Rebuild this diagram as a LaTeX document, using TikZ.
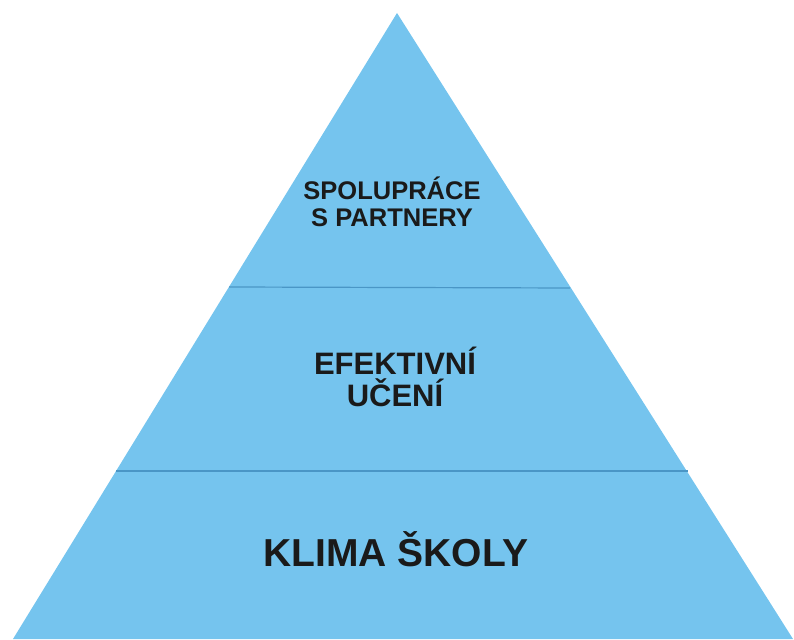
\documentclass[tikz,border=0pt]{standalone}
\usepackage{fontspec}
\setmainfont{Liberation Sans}
\definecolor{pyrfill}{HTML}{75C4EE}
\definecolor{pyrline}{HTML}{4A96C6}
\definecolor{pyrtext}{HTML}{1A1A1A}
\begin{document}
\begin{tikzpicture}[x=1pt,y=1pt,
  label/.style={text=pyrtext,font=\bfseries,align=center,inner sep=0pt},
  divider/.style={draw=pyrline,line width=1.2pt}]
\useasboundingbox (0,0) rectangle (794,639);
% pyramid (y = 639 - pixel row)
\coordinate (apex) at (397,626);
\coordinate (bl) at (13,0);
\coordinate (br) at (793,0);
\fill[pyrfill] (apex) -- (br) -- (bl) -- cycle;
% dividers
\coordinate (d1l) at (229,352);
\coordinate (d1r) at (570,351);
\coordinate (d2l) at (116,168);
\coordinate (d2r) at (688,168);
\draw[divider] (d1l) -- (d1r);
\draw[divider] (d2l) -- (d2r);
% labels
\node[label,font=\fontsize{25.5}{27}\selectfont\bfseries] (top) at (392,437) {SPOLUPRÁCE\\S PARTNERY};
\node[label,font=\fontsize{31}{32.5}\selectfont\bfseries] (mid) at (395,262) {EFEKTIVNÍ\\UČENÍ};
\node[label,font=\fontsize{39}{44}\selectfont\bfseries] (bot) at (396,90) {KLIMA ŠKOLY};
\end{tikzpicture}
\end{document}
